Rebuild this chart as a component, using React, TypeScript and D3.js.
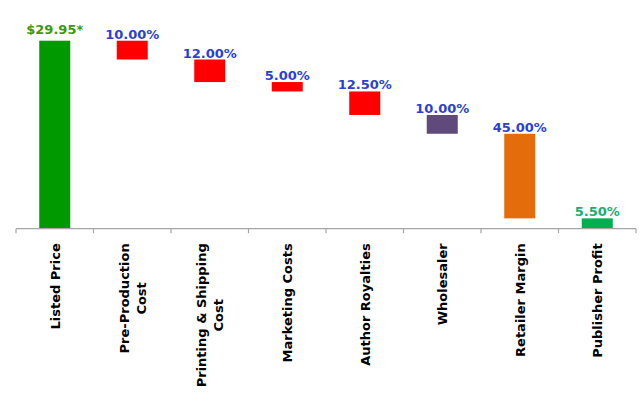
import React, { useEffect, useRef } from "react";
import * as d3 from "d3";

const categories = [
  ["Listed Price"],
  ["Pre-Production", "Cost"],
  ["Printing & Shipping", "Cost"],
  ["Marketing Costs"],
  ["Author Royalties"],
  ["Wholesaler"],
  ["Retailer Margin"],
  ["Publisher Profit"],
];
const shares = [100, 10, 12, 5, 12.5, 10, 45, 5.5];
const valueLabels = ["$29.95*", "10.00%", "12.00%", "5.00%", "12.50%", "10.00%", "45.00%", "5.50%"];
const barColors = ["#009900", "#FF0000", "#FF0000", "#FF0000", "#FF0000", "#604A7B", "#E46C0A", "#00B050"];
const labelColors = ["#3A9A0A", "#2B3FD4", "#2B3FD4", "#2B3FD4", "#2B3FD4", "#2B3FD4", "#2B3FD4", "#14B070"];

const W = 643, H = 400;

export default function App() {
  const ref = useRef<SVGSVGElement | null>(null);

  useEffect(() => {
    if (!ref.current) return;
    const svg = d3.select(ref.current);
    svg.selectAll("*").remove();

    const x = d3.scaleBand<number>()
      .domain(d3.range(categories.length))
      .range([16, 636])
      .paddingInner(0)
      .paddingOuter(0);
    const y = d3.scaleLinear().domain([0, 100]).range([228.7, 40.7]);

    // running totals for the waterfall
    let total = 0;
    const steps = shares.map((v, i) => {
      if (i === 0) { total = v; return { lo: 0, hi: v }; }
      const hi = total;
      total -= v;
      return { lo: total, hi };
    });

    const barW = x.bandwidth() * 0.4;
    const cx = (i: number) => (x(i) as number) + x.bandwidth() / 2;

    svg.selectAll(".bar")
      .data(steps)
      .enter()
      .append("rect")
      .attr("x", (d, i) => cx(i) - barW / 2)
      .attr("y", d => y(d.hi))
      .attr("width", barW)
      .attr("height", d => y(d.lo) - y(d.hi))
      .attr("fill", (d, i) => barColors[i]);

    svg.selectAll(".val")
      .data(steps)
      .enter()
      .append("text")
      .attr("x", (d, i) => cx(i))
      .attr("y", (d, i) => y(d.hi) - (i === 0 ? 6.5 : 2))
      .attr("text-anchor", "middle")
      .attr("font-family", "DejaVu Sans, Verdana, sans-serif")
      .attr("font-weight", "bold")
      .attr("font-size", 13)
      .attr("fill", (d, i) => labelColors[i])
      .text((d, i) => valueLabels[i]);

    // axis
    const axis = svg.append("g").attr("transform", `translate(0,${y(0)})`);
    axis.append("line")
      .attr("x1", 16).attr("x2", 636)
      .attr("stroke", "#A6A6A6").attr("stroke-width", 1.2);
    const bounds = d3.range(categories.length + 1).map(i => 16 + i * x.bandwidth());
    axis.selectAll(".tick")
      .data(bounds)
      .enter()
      .append("line")
      .attr("x1", d => d).attr("x2", d => d)
      .attr("y1", 0).attr("y2", 4.5)
      .attr("stroke", "#A6A6A6").attr("stroke-width", 1.2);

    // rotated category labels, top aligned, lines centred on each other
    const lh = 17;
    const top = 243.3;
    categories.forEach((lines, i) => {
      const g = svg.append("g");
      const texts = lines.map((line, j) =>
        g.append("text")
          .attr("font-family", "DejaVu Sans, Verdana, sans-serif")
          .attr("font-weight", "bold")
          .attr("font-size", 13)
          .attr("fill", "#000")
          .attr("text-anchor", "middle")
          .text(line)
      );
      const maxLen = d3.max(texts, t => (t.node() as SVGTextElement).getComputedTextLength()) || 0;
      texts.forEach((t, j) => {
        const lx = cx(i) + (j - (lines.length - 1) / 2) * lh + 4.8;
        const ly = top + maxLen / 2;
        t.attr("transform", `translate(${lx},${ly}) rotate(-90)`);
      });
    });
  }, []);

  return (
    <svg
      ref={ref}
      width={W}
      height={H}
      style={{ position: "absolute", left: 0, top: 0, background: "#fff" }}
    />
  );
}
